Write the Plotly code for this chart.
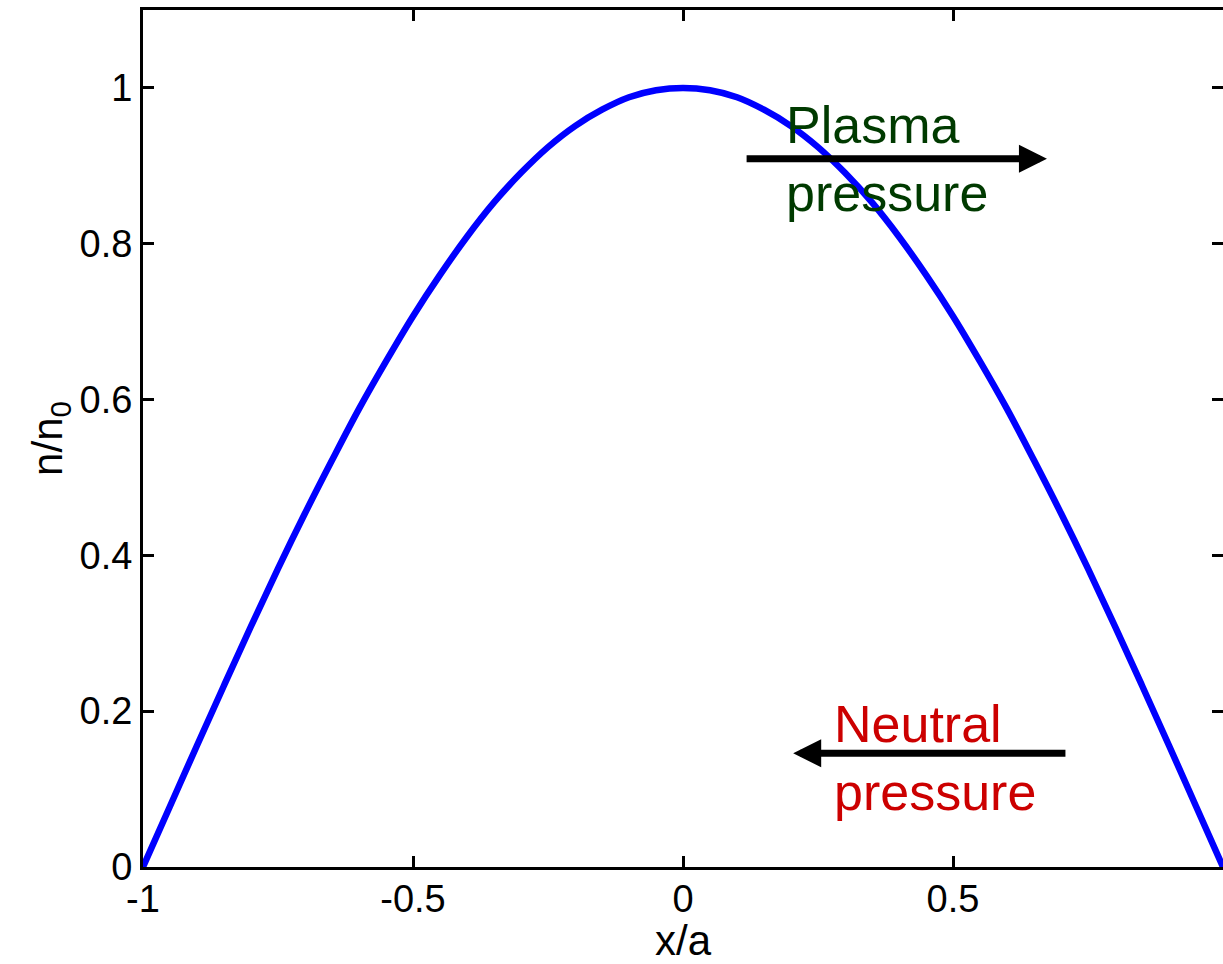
import plotly.graph_objects as go

# Density profile
x_pos = [-1.0, -0.95, -0.9, -0.85, -0.8, -0.75, -0.7, -0.65, -0.6, -0.55, -0.5,
         -0.45, -0.4, -0.35, -0.3, -0.25, -0.2, -0.15, -0.1, -0.05, 0.0,
         0.05, 0.1, 0.15, 0.2, 0.25, 0.3, 0.35, 0.4, 0.45, 0.5,
         0.55, 0.6, 0.65, 0.7, 0.75, 0.8, 0.85, 0.9, 0.95, 1.0]
n_ratio = [0.0, 0.078, 0.156, 0.233, 0.309, 0.383, 0.454, 0.522, 0.588, 0.649, 0.707,
           0.760, 0.809, 0.853, 0.891, 0.924, 0.951, 0.972, 0.988, 0.997, 1.0,
           0.997, 0.988, 0.972, 0.951, 0.924, 0.891, 0.853, 0.809, 0.760, 0.707,
           0.649, 0.588, 0.522, 0.454, 0.383, 0.309, 0.233, 0.156, 0.078, 0.0]

x_ticks = [-1, -0.5, 0, 0.5, 1]
x_tick_labels = ["-1", "-0.5", "0", "0.5", "1"]
y_ticks = [0, 0.2, 0.4, 0.6, 0.8, 1]
y_tick_labels = ["0", "0.2", "0.4", "0.6", "0.8", "1"]

FONT = "Liberation Sans, Arial, sans-serif"

fig = go.Figure()
fig.add_trace(go.Scatter(x=x_pos, y=n_ratio, mode="lines",
                         line=dict(color="#0000ff", width=6.5, shape="spline"),
                         showlegend=False, hoverinfo="skip"))

axis_common = dict(showline=True, linecolor="black", linewidth=3, mirror="ticks",
                   ticks="inside", ticklen=11, tickwidth=3, tickcolor="black",
                   showgrid=False, zeroline=False,
                   tickfont=dict(family=FONT, size=38, color="black"))

fig.update_xaxes(range=[-1, 1], tickvals=x_ticks, ticktext=x_tick_labels,
                 ticklabelstandoff=-4,
                 title=dict(text="x/a", font=dict(family=FONT, size=42, color="black"), standoff=4),
                 **axis_common)
fig.update_yaxes(range=[0, 1.1], tickvals=y_ticks, ticktext=y_tick_labels,
                 title=dict(text="n/n<sub>0</sub>", font=dict(family=FONT, size=42, color="black"), standoff=4),
                 **axis_common)

# Arrows
fig.add_annotation(x=0.674, y=0.909, ax=0.115, ay=0.909, xref="x", yref="y",
                   axref="x", ayref="y", text="", showarrow=True,
                   arrowhead=2, arrowsize=0.8, arrowwidth=7, arrowcolor="black")
fig.add_annotation(x=0.204, y=0.146, ax=0.711, ay=0.146, xref="x", yref="y",
                   axref="x", ayref="y", text="", showarrow=True,
                   arrowhead=2, arrowsize=0.8, arrowwidth=7, arrowcolor="black")

# Labels
fig.add_annotation(x=0.187, y=0.909, xref="x", yref="y", xanchor="left", yanchor="middle",
                   align="left", showarrow=False, text="Plasma<br>pressure",
                   font=dict(family=FONT, size=52, color="#003a00"))
fig.add_annotation(x=0.276, y=0.140, xref="x", yref="y", xanchor="left", yanchor="middle",
                   align="left", showarrow=False, text="Neutral<br>pressure",
                   font=dict(family=FONT, size=52, color="#cc0000"))

fig.update_layout(width=1223, height=964,
                  margin=dict(l=143, r=0, t=10, b=97, autoexpand=False),
                  paper_bgcolor="white", plot_bgcolor="white")

fig.write_html("out.html", config={"displayModeBar": False},
               post_script="document.body.style.margin='0px';document.body.style.overflow='hidden';")
